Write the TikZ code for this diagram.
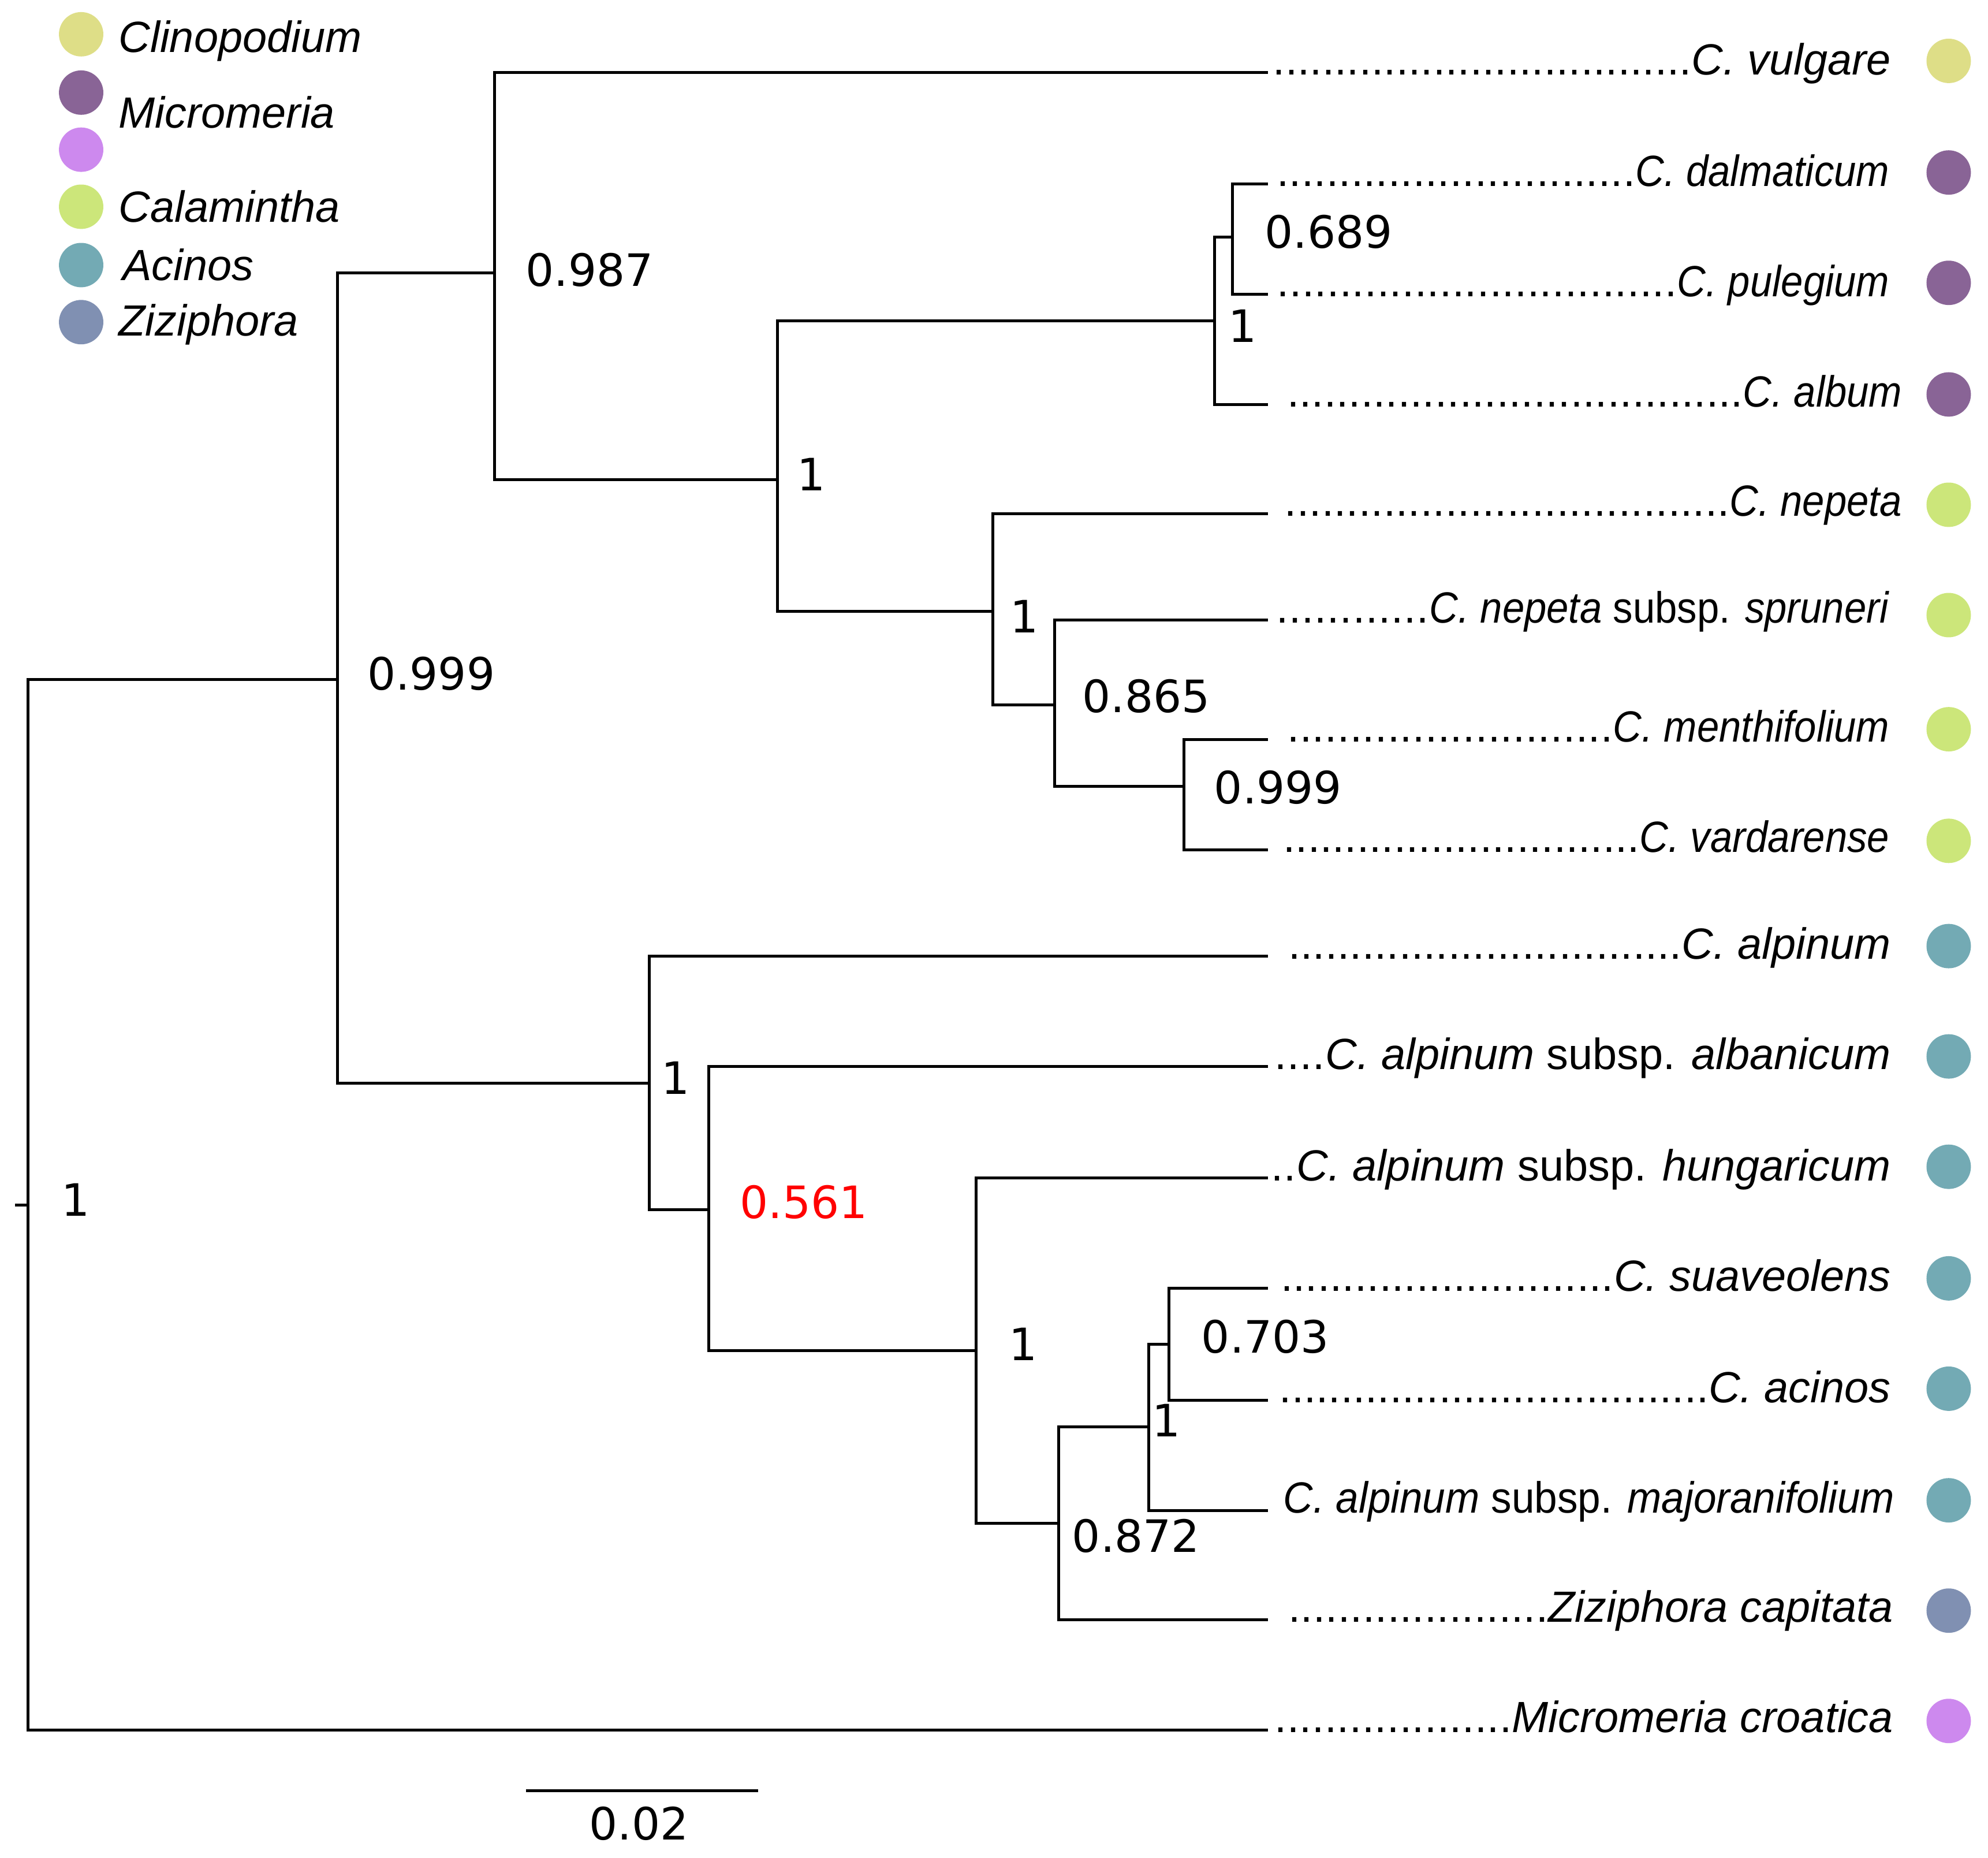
\documentclass[tikz,border=0pt]{standalone}
\usepackage{fontspec}
\setmainfont{Liberation Sans}
\newfontfamily\numfont{DejaVu Sans}
\usepackage{graphicx}
\usetikzlibrary{positioning}

\definecolor{clino}{RGB}{222,222,135}
\definecolor{micro}{RGB}{137,100,150}
\definecolor{microlt}{RGB}{205,137,238}
\definecolor{calam}{RGB}{204,230,122}
\definecolor{acin}{RGB}{115,170,180}
\definecolor{zizi}{RGB}{128,144,178}

% leader dots in front of a taxon name
\newcommand{\leadlabel}[2]{\makebox[#1][r]{\xleaders\hbox{.}\hfill#2}}
% the narrower names of the upper clade
\newcommand{\narrow}[1]{\scalebox{0.91}[1]{#1}}

\begin{document}
\begin{tikzpicture}[
    x=0.01cm, y=-0.01cm,
    branch/.style={line width=0.65pt},
    support/.style={font=\numfont\fontsize{10}{12}\selectfont, inner sep=0pt, anchor=west},
    taxon/.style={font=\fontsize{9.8}{12}\selectfont, inner sep=0pt, anchor=base east},
    genus/.style={font=\itshape\fontsize{9.8}{12}\selectfont, inner sep=0pt, anchor=base west},
    blob/.style={circle, inner sep=0pt, minimum size=0.35cm}
]
    \useasboundingbox (0,0) rectangle (1568,1465);

    % legend
    \node[blob, fill=clino] (gClino) at (64,27) {};
    \node[blob, fill=micro] (gMicro) at (64,73) {};
    \node[blob, fill=microlt] (gMicroLt) at (64,118) {};
    \node[blob, fill=calam] (gCalam) at (64,163) {};
    \node[blob, fill=acin] (gAcin) at (64,209) {};
    \node[blob, fill=zizi] (gZizi) at (64,254) {};
    \node[genus] (tClino) at (93,41) {Clinopodium};
    \node[genus] (tMicro) at (93,101) {Micromeria};
    \node[genus] (tCalam) at (93,175) {Calamintha};
    \node[genus] (tAcin) at (96,221) {Acinos};
    \node[genus] (tZizi) at (93,265) {Ziziphora};

    % taxa (branch tips)
    \coordinate (vulgare) at (1000,57);
    \coordinate (dalmaticum) at (1000,145);
    \coordinate (pulegium) at (1000,232);
    \coordinate (album) at (1000,319);
    \coordinate (nepeta) at (1000,405);
    \coordinate (spruneri) at (1000,489);
    \coordinate (menthifolium) at (1000,583);
    \coordinate (vardarense) at (1000,670);
    \coordinate (alpinum) at (1000,754);
    \coordinate (albanicum) at (1000,841);
    \coordinate (hungaricum) at (1000,929);
    \coordinate (suaveolens) at (1000,1016);
    \coordinate (acinos) at (1000,1104);
    \coordinate (majoranifolium) at (1000,1191);
    \coordinate (capitata) at (1000,1277);
    \coordinate (croatica) at (1000,1364);

    % inner nodes
    \coordinate (stub) at (12,950);
    \coordinate (root) at (22,950);
    \coordinate (core) at (266,536);
    \coordinate (clinoGrp) at (390,215);
    \coordinate (calamGrp) at (613,378);
    \coordinate (microGrp) at (958,253);
    \coordinate (dalmPul) at (972,187);
    \coordinate (nepetaGrp) at (783,482);
    \coordinate (sprMen) at (832,556);
    \coordinate (menVar) at (934,620);
    \coordinate (acinosGrp) at (512,854);
    \coordinate (albHung) at (559,954);
    \coordinate (hungGrp) at (770,1065);
    \coordinate (ziziGrp) at (835,1201);
    \coordinate (suaAcMaj) at (906,1125);
    \coordinate (suaAc) at (922,1060);

    % branches
    \draw[branch] (stub) -- (root);
    \draw[branch] (root) |- (core);
    \draw[branch] (root) |- (croatica);
    \draw[branch] (core) |- (clinoGrp);
    \draw[branch] (core) |- (acinosGrp);
    \draw[branch] (clinoGrp) |- (vulgare);
    \draw[branch] (clinoGrp) |- (calamGrp);
    \draw[branch] (calamGrp) |- (microGrp);
    \draw[branch] (calamGrp) |- (nepetaGrp);
    \draw[branch] (microGrp) |- (dalmPul);
    \draw[branch] (microGrp) |- (album);
    \draw[branch] (dalmPul) |- (dalmaticum);
    \draw[branch] (dalmPul) |- (pulegium);
    \draw[branch] (nepetaGrp) |- (nepeta);
    \draw[branch] (nepetaGrp) |- (sprMen);
    \draw[branch] (sprMen) |- (spruneri);
    \draw[branch] (sprMen) |- (menVar);
    \draw[branch] (menVar) |- (menthifolium);
    \draw[branch] (menVar) |- (vardarense);
    \draw[branch] (acinosGrp) |- (alpinum);
    \draw[branch] (acinosGrp) |- (albHung);
    \draw[branch] (albHung) |- (albanicum);
    \draw[branch] (albHung) |- (hungGrp);
    \draw[branch] (hungGrp) |- (hungaricum);
    \draw[branch] (hungGrp) |- (ziziGrp);
    \draw[branch] (ziziGrp) |- (suaAcMaj);
    \draw[branch] (ziziGrp) |- (capitata);
    \draw[branch] (suaAcMaj) |- (suaAc);
    \draw[branch] (suaAcMaj) |- (majoranifolium);
    \draw[branch] (suaAc) |- (suaveolens);
    \draw[branch] (suaAc) |- (acinos);

    % support values
    \node[support] (sRoot) at (48,946) {1};
    \node[support] (sCore) at (289,531) {0.999};
    \node[support] (sClino) at (414,213) {0.987};
    \node[support] (sCalam) at (628,374) {1};
    \node[support] (sMicro) at (968,257) {1};
    \node[support] (sDalm) at (997,183) {0.689};
    \node[support] (sNepeta) at (796,486) {1};
    \node[support] (sSpr) at (853,549) {0.865};
    \node[support] (sMen) at (957,621) {0.999};
    \node[support] (sAcinos) at (521,850) {1};
    \node[support, text=red] (sAlb) at (583,948) {0.561};
    \node[support] (sHung) at (795,1060) {1};
    \node[support] (sZizi) at (845,1211) {0.872};
    \node[support] (sSuaMaj) at (908,1120) {1};
    \node[support] (sSua) at (947,1054) {0.703};

    % taxon labels
    \node[taxon] (tVulgare) at (1492,59) {\leadlabel{4.87cm}{\textit{C. vulgare}}};
    \node[taxon] (tDalmaticum) at (1491,147) {\leadlabel{4.83cm}{\narrow{\textit{C. dalmaticum}}}};
    \node[taxon] (tPulegium) at (1491,234) {\leadlabel{4.83cm}{\narrow{\textit{C. pulegium}}}};
    \node[taxon] (tAlbum) at (1501,321) {\leadlabel{4.85cm}{\narrow{\textit{C. album}}}};
    \node[taxon] (tNepeta) at (1501,407) {\leadlabel{4.87cm}{\narrow{\textit{C. nepeta}}}};
    \node[taxon] (tSpruneri) at (1491,491) {\leadlabel{4.84cm}{\narrow{\textit{C. nepeta} subsp. \textit{spruneri}}}};
    \node[taxon] (tMenthifolium) at (1491,585) {\leadlabel{4.75cm}{\narrow{\textit{C. menthifolium}}}};
    \node[taxon] (tVardarense) at (1491,672) {\leadlabel{4.78cm}{\narrow{\textit{C. vardarense}}}};
    \node[taxon] (tAlpinum) at (1492,756) {\leadlabel{4.75cm}{\textit{C. alpinum}}};
    \node[taxon] (tAlbanicum) at (1492,843) {\leadlabel{4.86cm}{\textit{C. alpinum} subsp. \textit{albanicum}}};
    \node[taxon] (tHungaricum) at (1492,931) {\leadlabel{4.89cm}{\textit{C. alpinum} subsp. \textit{hungaricum}}};
    \node[taxon] (tSuaveolens) at (1492,1018) {\leadlabel{4.81cm}{\textit{C. suaveolens}}};
    \node[taxon] (tAcinos) at (1492,1106) {\leadlabel{4.82cm}{\textit{C. acinos}}};
    \node[taxon] (tMajoranifolium) at (1495,1193) {\scalebox{0.94}[1]{\textit{C. alpinum} subsp. \textit{majoranifolium}}};
    \node[taxon] (tCapitata) at (1494,1279) {\leadlabel{4.77cm}{\textit{Ziziphora capitata}}};
    \node[taxon] (tCroatica) at (1494,1366) {\leadlabel{4.88cm}{\textit{Micromeria croatica}}};

    % genus dots
    \node[blob, fill=clino] (cVulgare) at (1537,48) {};
    \node[blob, fill=micro] (cDalmaticum) at (1537,136) {};
    \node[blob, fill=micro] (cPulegium) at (1537,223) {};
    \node[blob, fill=micro] (cAlbum) at (1537,311) {};
    \node[blob, fill=calam] (cNepeta) at (1537,398) {};
    \node[blob, fill=calam] (cSpruneri) at (1537,485) {};
    \node[blob, fill=calam] (cMenthifolium) at (1537,575) {};
    \node[blob, fill=calam] (cVardarense) at (1537,663) {};
    \node[blob, fill=acin] (cAlpinum) at (1537,746) {};
    \node[blob, fill=acin] (cAlbanicum) at (1537,833) {};
    \node[blob, fill=acin] (cHungaricum) at (1537,920) {};
    \node[blob, fill=acin] (cSuaveolens) at (1537,1008) {};
    \node[blob, fill=acin] (cAcinos) at (1537,1095) {};
    \node[blob, fill=acin] (cMajoranifolium) at (1537,1183) {};
    \node[blob, fill=zizi] (cCapitata) at (1537,1270) {};
    \node[blob, fill=microlt] (cCroatica) at (1537,1357) {};

    % scale bar
    \coordinate (bar1) at (415,1412);
    \coordinate (bar2) at (598,1412);
    \draw[branch] (bar1) -- (bar2);
    \node[support, anchor=center] (barText) at (504,1438) {0.02};
\end{tikzpicture}
\end{document}
